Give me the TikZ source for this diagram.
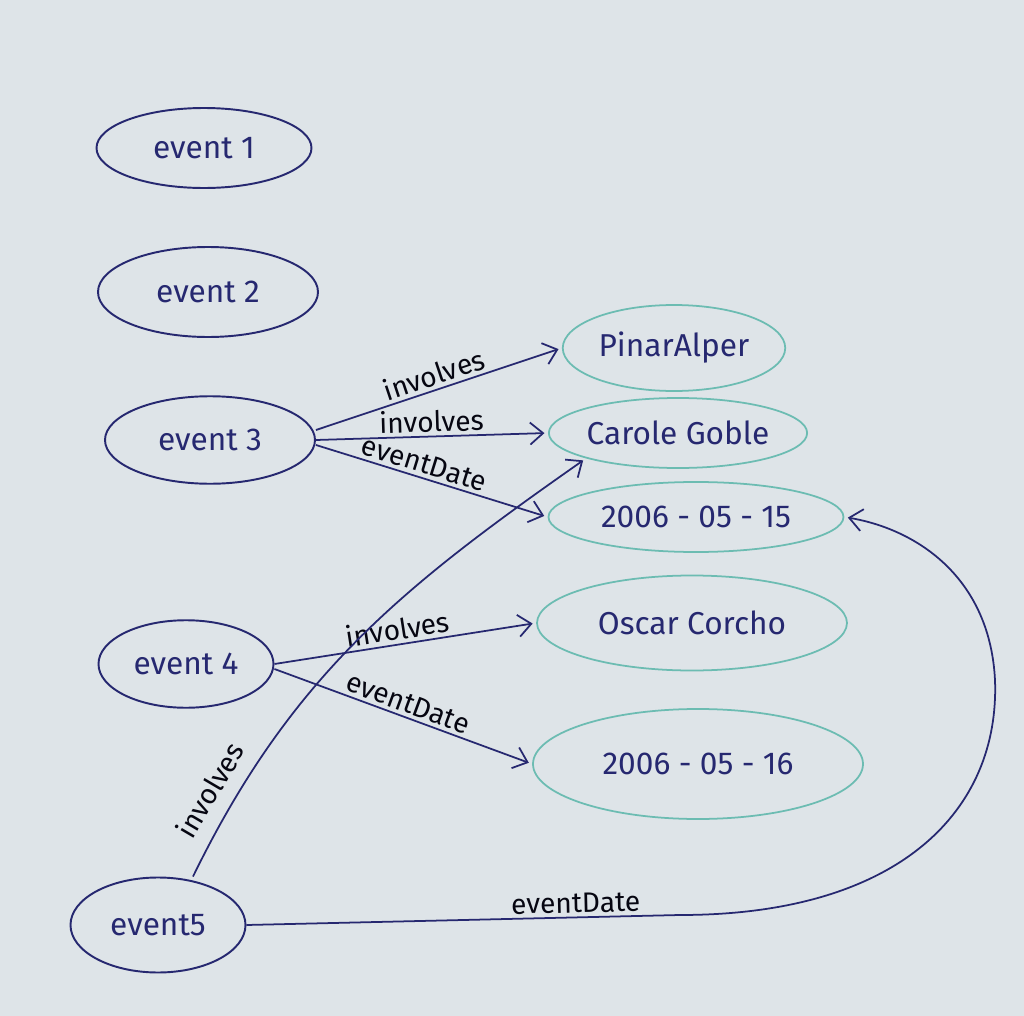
\documentclass[tikz,border=0pt]{standalone}
\usepackage{fontspec}
\setmainfont{Fira Sans}
\usepackage{tikz}
\usetikzlibrary{arrows.meta,positioning,shapes.geometric}
\definecolor{ink}{RGB}{38,40,112}
\definecolor{tealink}{RGB}{108,188,178}
\definecolor{paper}{RGB}{222,228,232}
\begin{document}
\begin{tikzpicture}[
        ev/.style={ellipse,draw=ink,line width=1.1pt,inner sep=0pt,
                   font=\fontsize{18}{20}\selectfont,text=ink},
        val/.style={ellipse,draw=tealink,line width=1pt,inner sep=0pt,
                    font=\fontsize{18}{20}\selectfont,text=ink},
        a/.style={-{Straight Barb[length=2.6mm,width=4.4mm]},line width=1pt,ink,
                  shorten >=2pt},
        lbl/.style={font=\fontsize{16}{18}\selectfont,text=black!85!ink,sloped,above,
                    inner sep=2pt}
      ]
        \useasboundingbox[fill=paper] (0,0) rectangle (20.48,-20.32);

        % events
        \node[ev, minimum width=4.3cm, minimum height=1.6cm] (e1) at (4.08,-2.96) {event 1};
        \node[ev, minimum width=4.4cm, minimum height=1.8cm] (e2) at (4.16,-5.84) {event 2};
        \node[ev, minimum width=4.2cm, minimum height=1.75cm] (e3) at (4.2,-8.8) {event 3};
        \node[ev, minimum width=3.5cm, minimum height=1.75cm] (e4) at (3.72,-13.28) {event 4};
        \node[ev, minimum width=3.5cm, minimum height=1.9cm] (e5) at (3.16,-18.5) {event5};

        % values
        \node[val, minimum width=4.45cm, minimum height=1.72cm] (pinar) at (13.48,-6.96) {PinarAlper};
        \node[val, minimum width=4.8cm, minimum height=1.4cm] (carole) at (13.56,-8.66) {Carole Goble};
        \node[val, minimum width=5.9cm, minimum height=1.4cm] (d15) at (13.92,-10.34) {2006 - 05 - 15};
        \node[val, minimum width=6.2cm, minimum height=1.9cm] (oscar) at (13.84,-12.46) {Oscar Corcho};
        \node[val, minimum width=6.6cm, minimum height=2.2cm] (d16) at (13.96,-15.28) {2006 - 05 - 16};

        % bend points of the long eventDate curve
        \coordinate (k1) at (13.6,-18.3);
        \coordinate (k2) at (19.9,-13.6);

        \draw[a] (e3.east) ++(0,0.2) -- node[lbl] {involves} (pinar.west);
        \draw[a] (e3.east) -- node[lbl] {involves} (carole.west);
        \draw[a] (e3.east) ++(0,-0.1) -- node[lbl, pos=0.45] {eventDate} (d15.west);
        \draw[a] (e4.east) -- node[lbl, pos=0.48] {involves} (oscar.west);
        \draw[a] (e4.east) ++(0,-0.1) -- node[lbl] {eventDate} (d16.west);
        \draw[a] (e5.north) ++(0.7,0) to[out=64,in=215]
          node[lbl, pos=0.13, yshift=6pt] {involves} (carole.south west);
        \draw[a] (e5.east) -- node[lbl, pos=0.76] {eventDate} (k1)
          .. controls (18,-18.3) and (20,-16.2) .. (k2)
          .. controls (19.8,-11.6) and (18.4,-10.6) .. (d15.east);
      \end{tikzpicture}
\end{document}
